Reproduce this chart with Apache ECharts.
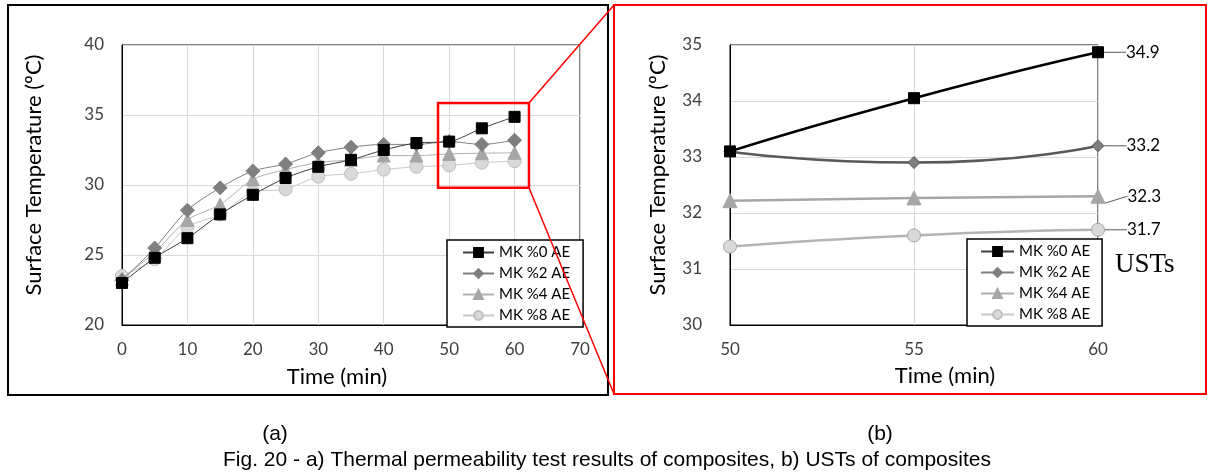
<!DOCTYPE html>
<html>
<head>
<meta charset="utf-8">
<script src="https://cdn.jsdelivr.net/npm/echarts@6/dist/echarts.min.js"></script>
<style>
  html, body { margin: 0; padding: 0; background: #fff; }
  #chart { width: 1208px; height: 474px; }
</style>
</head>
<body>
<div id="chart"></div>
<script>
// time points (min)
const times = [0, 5, 10, 15, 20, 25, 30, 35, 40, 45, 50, 55, 60];
// surface temperatures (°C)
const mk0 = [23.0, 24.8, 26.2, 27.9, 29.3, 30.5, 31.3, 31.8, 32.5, 33.0, 33.1, 34.05, 34.87];
const mk2 = [23.2, 25.5, 28.2, 29.8, 31.0, 31.5, 32.3, 32.7, 32.9, 32.9, 33.1, 32.9, 33.2];
const mk4 = [23.3, 25.2, 27.5, 28.6, 30.4, 31.1, 31.6, 31.8, 32.1, 32.1, 32.22, 32.27, 32.3];
const mk8 = [23.5, 24.7, 27.0, 27.9, 29.5, 29.7, 30.6, 30.8, 31.1, 31.3, 31.4, 31.6, 31.7];
const names = ['MK %0 AE', 'MK %2 AE', 'MK %4 AE', 'MK %8 AE'];
const zoomFrom = 50; // UST panel starts at 50 min

const font = 'Lato, "Open Sans", sans-serif';
const capFont = '"Liberation Sans", Arial, sans-serif';
const tickColor = '#404040';

// left panel styles (thin lines)
const leftStyle = [
  { symbol: 'rect', size: 11, line: '#404040', fill: '#000000', border: '#000000' },
  { symbol: 'diamond', size: 14, line: '#7f7f7f', fill: '#7f7f7f', border: '#7f7f7f' },
  { symbol: 'triangle', size: 13, line: '#b0b0b0', fill: '#a6a6a6', border: '#a6a6a6' },
  { symbol: 'circle', size: 13, line: '#c8c8c8', fill: '#d9d9d9', border: '#bfbfbf' }
];
// right panel styles (thick smooth lines)
const rightStyle = [
  { symbol: 'rect', size: 11, line: '#000000', fill: '#000000', border: '#000000' },
  { symbol: 'diamond', size: 12, line: '#595959', fill: '#7f7f7f', border: '#595959' },
  { symbol: 'triangle', size: 14, line: '#a6a6a6', fill: '#a6a6a6', border: '#a6a6a6' },
  { symbol: 'circle', size: 13, line: '#b4b4b4', fill: '#d9d9d9', border: '#a6a6a6' }
];
const allData = [mk0, mk2, mk4, mk8];

function pairs(arr, from) {
  return times.map((t, i) => [t, arr[i]]).filter(p => p[0] >= from);
}

const endLabel = {
  show: true, position: 'right', distance: 22,
  formatter: p => p.value[1].toFixed(1),
  fontFamily: font, fontSize: 17, color: '#000'
};

const series = [];
allData.forEach((arr, k) => {
  const s = leftStyle[k];
  series.push({
    name: names[k], type: 'line', xAxisIndex: 0, yAxisIndex: 0,
    data: pairs(arr, 0), smooth: 0.3,
    symbol: s.symbol, symbolSize: s.size,
    lineStyle: { color: s.line, width: 1 },
    itemStyle: { color: s.fill, borderColor: s.border, borderWidth: 1 },
    z: 10 - k
  });
});
allData.forEach((arr, k) => {
  const s = rightStyle[k];
  const pts = pairs(arr, zoomFrom);
  series.push({
    name: names[k], type: 'line', xAxisIndex: 1, yAxisIndex: 1,
    data: pts.map((p, i) => i === pts.length - 1
      ? { value: p, label: endLabel } : { value: p }),
    smooth: 0.6,
    symbol: s.symbol, symbolSize: s.size,
    lineStyle: { color: s.line, width: 2.5 },
    itemStyle: { color: s.fill, borderColor: s.border, borderWidth: 1 },
    label: { show: false },
    labelLine: { show: true, length2: 0, smooth: false, lineStyle: { color: '#595959', width: 1 } },
    z: 10 - k
  });
});

const axisLbl = { fontFamily: font, fontSize: 17, color: tickColor };
const gridLine = { show: true, lineStyle: { color: '#d9d9d9', width: 1 } };
function nameStyle(padding) {
  return { fontFamily: font, fontSize: 22, color: '#000', padding: padding };
}

const option = {
  animation: false,
  backgroundColor: '#fff',
  grid: [
    { left: 122, top: 45, width: 458, height: 280, show: true, borderColor: '#000', borderWidth: 1 },
    { left: 730, top: 45, width: 368, height: 280, show: true, borderColor: '#000', borderWidth: 1 }
  ],
  xAxis: [
    {
      gridIndex: 0, type: 'value', min: 0, max: 70, interval: 10,
      name: 'Time (min)', nameLocation: 'middle', nameGap: 41, nameTextStyle: nameStyle([0, 28, 0, 0]),
      axisLine: { lineStyle: { color: '#000' } }, axisTick: { show: false },
      axisLabel: Object.assign({ margin: 16 }, axisLbl), splitLine: gridLine
    },
    {
      gridIndex: 1, type: 'value', min: 50, max: 60, interval: 5,
      name: 'Time (min)', nameLocation: 'middle', nameGap: 40, nameTextStyle: nameStyle([0, 0, 0, 62]),
      axisLine: { lineStyle: { color: '#000' } }, axisTick: { show: false },
      axisLabel: Object.assign({ margin: 16 }, axisLbl), splitLine: gridLine
    }
  ],
  yAxis: [
    {
      gridIndex: 0, type: 'value', min: 20, max: 40, interval: 5,
      name: 'Surface Temperature (ºC)', nameLocation: 'middle', nameGap: 77, nameTextStyle: nameStyle([0, 0, 0, 20]),
      axisLine: { show: true, lineStyle: { color: '#000' } }, axisTick: { show: false },
      axisLabel: Object.assign({ margin: 18 }, axisLbl), splitLine: gridLine
    },
    {
      gridIndex: 1, type: 'value', min: 30, max: 35, interval: 1,
      name: 'Surface Temperature (ºC)', nameLocation: 'middle', nameGap: 61, nameTextStyle: nameStyle([0, 0, 0, 20]),
      axisLine: { show: true, lineStyle: { color: '#000' } }, axisTick: { show: false },
      axisLabel: Object.assign({ margin: 28 }, axisLbl), splitLine: gridLine
    }
  ],
  legend: [
    {
      data: names, left: 447, top: 240, orient: 'vertical',
      itemWidth: 31, itemHeight: 11, itemGap: 6, padding: [5, 13, 4, 15],
      borderColor: '#000', borderWidth: 1.5, backgroundColor: '#fff',
      textStyle: { fontFamily: font, fontSize: 15, color: '#000' }, selectedMode: false
    },
    {
      data: names, left: 967, top: 239, orient: 'vertical',
      itemWidth: 33, itemHeight: 11, itemGap: 6, padding: [5, 12, 4, 13],
      borderColor: '#000', borderWidth: 1.5, backgroundColor: '#fff',
      textStyle: { fontFamily: font, fontSize: 15, color: '#000' }, selectedMode: false
    }
  ],
  series: series,
  graphic: [
    { id: 'frameA', type: 'rect', shape: { x: 8, y: 5, width: 600, height: 390 }, style: { fill: null, stroke: '#000', lineWidth: 2 }, silent: true },
    { id: 'frameB', type: 'rect', shape: { x: 614, y: 5, width: 592, height: 389 }, style: { fill: null, stroke: '#ff0000', lineWidth: 2 }, silent: true },
    { id: 'capA', type: 'text', x: 275, y: 434, style: { text: '(a)', font: '21px ' + capFont, fill: '#000', textAlign: 'center', textVerticalAlign: 'middle' } },
    { id: 'capB', type: 'text', x: 880, y: 434, style: { text: '(b)', font: '21px ' + capFont, fill: '#000', textAlign: 'center', textVerticalAlign: 'middle' } },
    { id: 'cap', type: 'text', x: 607, y: 460, style: { text: 'Fig. 20 - a) Thermal permeability test results of composites, b) USTs of composites', font: '21px ' + capFont, fill: '#000', textAlign: 'center', textVerticalAlign: 'middle' } },
    { id: 'usts', type: 'text', x: 1115, y: 265, style: { text: 'USTs', font: '27px "Liberation Serif", "DejaVu Serif", serif', fill: '#000', textAlign: 'left', textVerticalAlign: 'middle' } }
  ]
};

const chart = echarts.init(document.getElementById('chart'), null, { renderer: 'canvas' });
chart.setOption(option);

// red zoom box on the left panel, mapped through the left axes
const p1 = chart.convertToPixel({ gridIndex: 0 }, [48.3, 35.85]);
const p2 = chart.convertToPixel({ gridIndex: 0 }, [62.2, 29.8]);
chart.setOption({
  graphic: [
    { id: 'zoomBox', type: 'rect', shape: { x: p1[0], y: p1[1], width: p2[0] - p1[0], height: p2[1] - p1[1] }, style: { fill: null, stroke: '#ff0000', lineWidth: 2.5 }, silent: true, z: 100 },
    { id: 'zoomTop', type: 'line', shape: { x1: p2[0], y1: p1[1], x2: 614, y2: 5 }, style: { stroke: '#ff0000', lineWidth: 1.5 }, silent: true, z: 100 },
    { id: 'zoomBottom', type: 'line', shape: { x1: p2[0], y1: p2[1], x2: 614, y2: 394 }, style: { stroke: '#ff0000', lineWidth: 1.5 }, silent: true, z: 100 }
  ]
});
</script>
</body>
</html>
